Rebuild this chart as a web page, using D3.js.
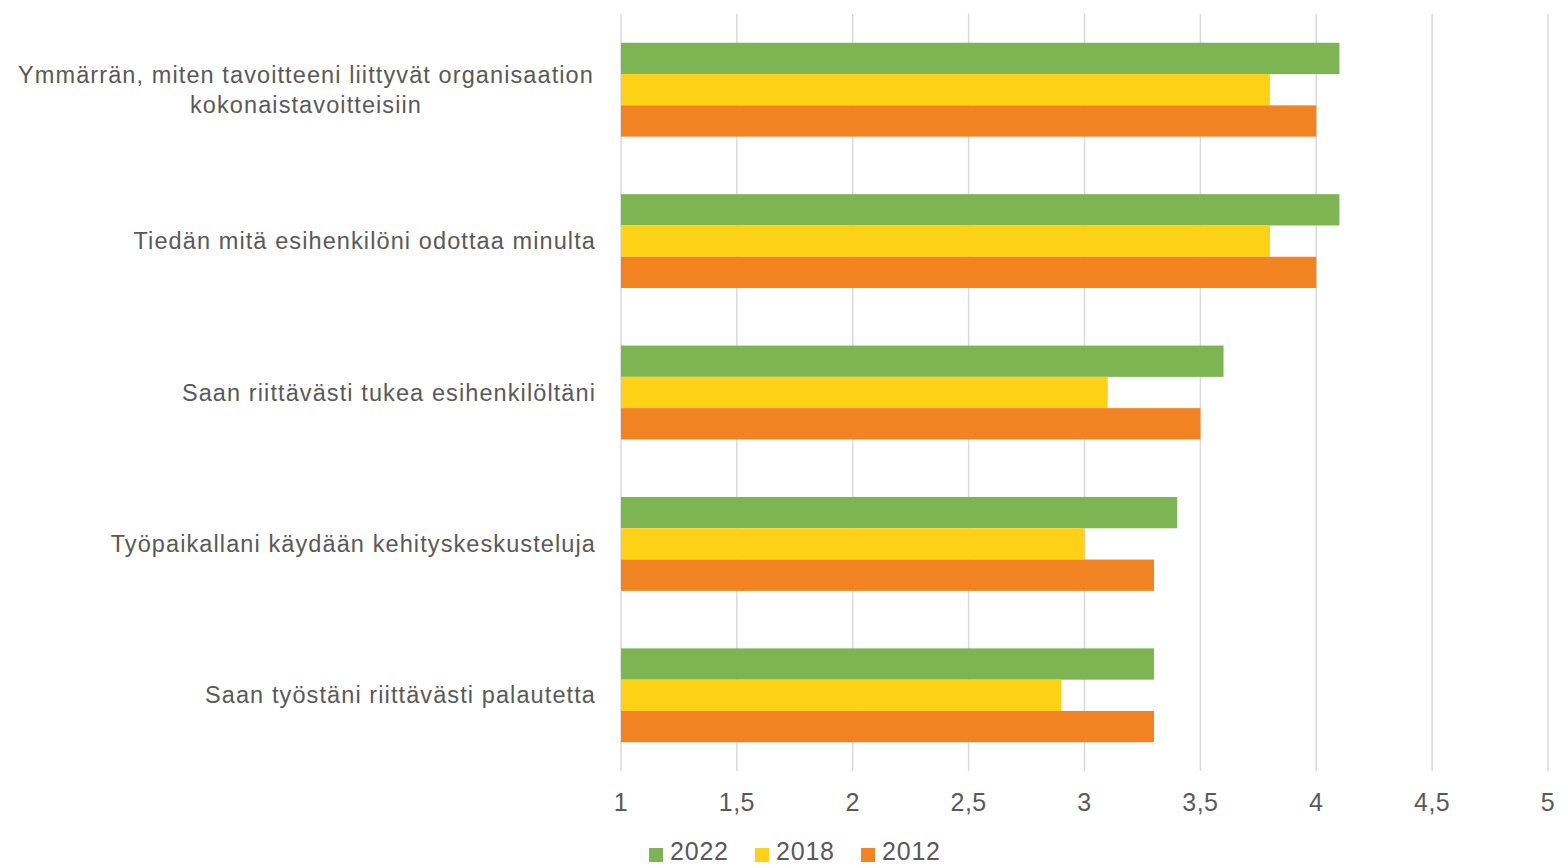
<!DOCTYPE html>
<html><head><meta charset="utf-8">
<script src="https://cdn.jsdelivr.net/npm/d3@7"></script>
<style>body{margin:0;background:#fff}svg{display:block}</style>
</head><body>
<svg id="c" width="1563" height="865"></svg>
<script>
const categories = [
  ["Ymmärrän, miten tavoitteeni liittyvät organisaation", "kokonaistavoitteisiin"],
  ["Tiedän mitä esihenkilöni odottaa minulta"],
  ["Saan riittävästi tukea esihenkilöltäni"],
  ["Työpaikallani käydään kehityskeskusteluja"],
  ["Saan työstäni riittävästi palautetta"]
];
const seriesNames = ["2022", "2018", "2012"];
const values2022 = [4.1, 4.1, 3.6, 3.4, 3.3];
const values2018 = [3.8, 3.8, 3.1, 3.0, 2.9];
const values2012 = [4.0, 4.0, 3.5, 3.3, 3.3];
const tickValues = [1, 1.5, 2, 2.5, 3, 3.5, 4, 4.5, 5];
const colors = ["#7cb552", "#fdd116", "#f28322"];
const series = [values2022, values2018, values2012];

const svg = d3.select("#c");
const font = "'Liberation Sans', Arial, sans-serif";
const x = d3.scaleLinear().domain([1, 5]).range([621, 1548]);
const y = d3.scaleBand().domain(d3.range(categories.length)).range([14, 771]).paddingInner(0.38).paddingOuter(0.19);
const ys = d3.scaleBand().domain(d3.range(series.length)).range([0, y.bandwidth()]);

// grid
svg.append("g").selectAll("line").data(tickValues).join("line")
  .attr("x1", d => x(d)).attr("x2", d => x(d))
  .attr("y1", 14).attr("y2", 771)
  .attr("stroke", "#d9d9d9").attr("stroke-width", 1.5);

// bars
const g = svg.append("g");
series.forEach((vals, si) => {
  g.selectAll(".s" + si).data(vals).join("rect")
    .attr("x", x(1))
    .attr("y", (d, i) => y(i) + ys(si))
    .attr("width", d => x(d) - x(1))
    .attr("height", ys.bandwidth())
    .attr("fill", colors[si]);
});

// x axis labels
const fmt = d => String(d).replace(".", ",");
svg.append("g").selectAll("text").data(tickValues).join("text")
  .attr("x", d => x(d)).attr("y", 811)
  .attr("text-anchor", "middle")
  .attr("font-family", font).attr("font-size", 25).attr("fill", "#595959")
  .attr("letter-spacing", 0.5)
  .text(fmt);

// category labels
const cl = svg.append("g");
categories.forEach((lines, i) => {
  const cy = y(i) + y.bandwidth() / 2;
  const lh = 30;
  lines.forEach((t, li) => {
    cl.append("text")
      .attr("x", lines.length > 1 ? 306 : 596)
      .attr("y", cy + (li - (lines.length - 1) / 2) * lh + 8)
      .attr("text-anchor", lines.length > 1 ? "middle" : "end")
      .attr("font-family", font).attr("font-size", 23.5).attr("fill", "#595959")
      .attr("letter-spacing", 1.1)
      .text(t);
  });
});

// legend
const lg = svg.append("g");
const lx = [649, 755, 861];
seriesNames.forEach((n, i) => {
  lg.append("rect").attr("x", lx[i]).attr("y", 848).attr("width", 14).attr("height", 14).attr("fill", colors[i]);
  lg.append("text").attr("x", lx[i] + 21).attr("y", 860)
    .attr("font-family", font).attr("font-size", 25).attr("fill", "#595959")
    .attr("letter-spacing", 0.8).text(n);
});
</script>
</body></html>
